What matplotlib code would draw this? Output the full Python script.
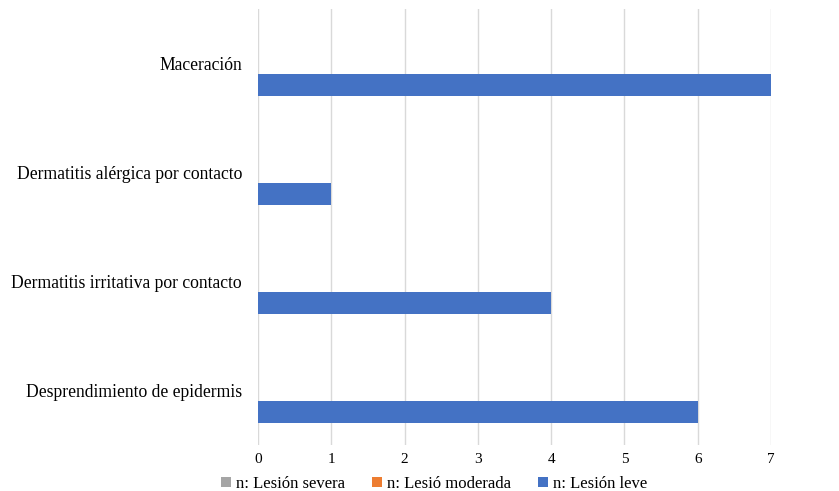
import matplotlib
matplotlib.use("Agg")
import matplotlib.pyplot as plt
import numpy as np

categories = ["Desprendimiento de epidermis", "Dermatitis irritativa por contacto",
              "Dermatitis alérgica por contacto", "Maceración"]
severa = [0, 0, 0, 0]
moderada = [0, 0, 0, 0]
leve = [6, 4, 1, 7]
series_names = ["n: Lesión severa", "n: Lesió moderada", "n: Lesión leve"]
colors = ["#A5A5A5", "#ED7D31", "#4472C4"]

plt.rcParams['font.family'] = ['Liberation Serif', 'DejaVu Serif']

fig = plt.figure(figsize=(8.39, 4.91), dpi=100)
ax = fig.add_axes([258/839, 1-445/491, (771-258)/839, (445-9)/491])

y = np.arange(len(categories))
h = 0.2
handles = []
for vals, off, c, name in zip([severa, moderada, leve], [h, 0, -h], colors, series_names):
    b = ax.barh(y + off, vals, height=h, color=c, label=name)
    handles.append(b)

ax.set_xlim(0, 7)
ax.set_ylim(-0.5, len(categories) - 0.5)
ax.set_xticks(range(0, 8))
ax.set_yticks(y)
ax.set_yticklabels(categories, fontsize=12.7)
ax.tick_params(axis='x', labelsize=11, length=0, pad=6)
ax.tick_params(axis='y', length=0, pad=11.5)
ax.grid(axis='x', color='#d9d9d9', linewidth=1)
ax.set_axisbelow(True)
for s in ax.spines.values():
    s.set_visible(False)

fig.legend(handles=handles, loc='center', bbox_to_anchor=(434/839, 1-484/491),
           ncol=3, frameon=False, fontsize=12, handlelength=0.6, handleheight=0.6,
           handletextpad=0.3, columnspacing=1.6)

fig.savefig("out.png", dpi=100)
